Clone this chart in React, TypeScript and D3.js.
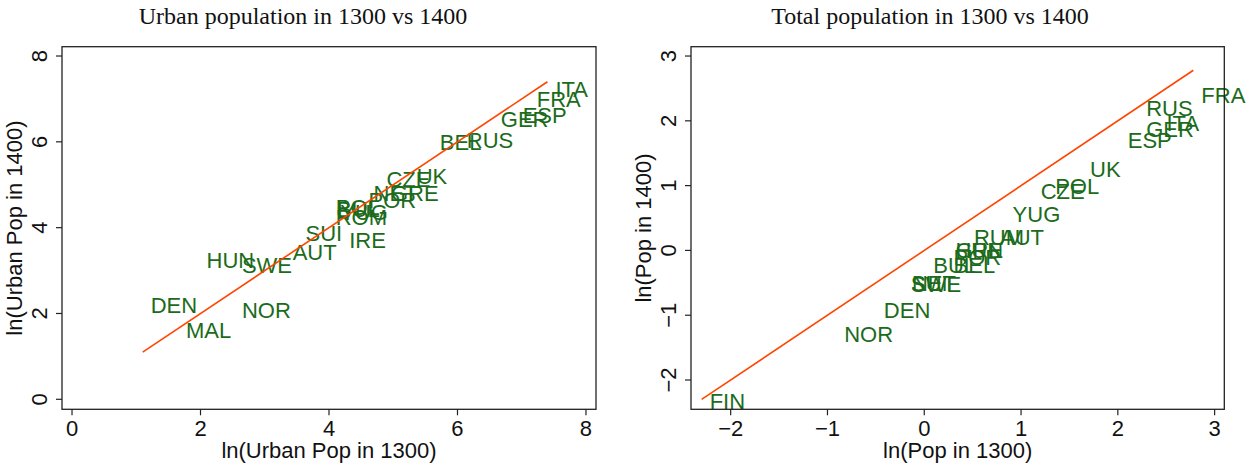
import React from "react";
import * as d3 from "d3";

// ---- Data: left panel (urban population, logs) ----
const urbanCodes = ["DEN", "MAL", "HUN", "SWE", "NOR", "AUT", "SUI", "IRE", "POL", "BUL", "ROM", "YUG", "POR", "NET", "GRE", "CZE", "UK", "BEL", "RUS", "GER", "ESP", "FRA", "ITA"];
const urban1300 = [1.10, 1.65, 1.97, 2.52, 2.52, 3.31, 3.51, 4.19, 3.98, 4.00, 3.98, 4.05, 4.49, 4.57, 4.84, 4.77, 5.24, 5.60, 6.02, 6.55, 6.89, 7.11, 7.40];
const urban1400 = [2.19, 1.61, 3.25, 3.13, 2.08, 3.44, 3.88, 3.72, 4.47, 4.44, 4.24, 4.37, 4.65, 4.80, 4.80, 5.13, 5.20, 6.00, 6.04, 6.53, 6.63, 7.00, 7.23];

// ---- Data: right panel (total population, logs) ----
const popCodes = ["FIN", "NOR", "DEN", "SUI", "SWE", "NET", "BUL", "BEL", "POR", "HUN", "GRE", "RUM", "AUT", "YUG", "CZE", "POL", "UK", "ESP", "GER", "ITA", "RUS", "FRA"];
const pop1300 = [-2.30, -0.91, -0.50, -0.22, -0.22, -0.21, 0.01, 0.22, 0.22, 0.24, 0.24, 0.43, 0.70, 0.83, 1.12, 1.27, 1.63, 2.02, 2.21, 2.42, 2.21, 2.78];
const pop1400 = [-2.32, -1.285, -0.925, -0.51, -0.52, -0.50, -0.22, -0.22, -0.10, 0.00, 0.01, 0.21, 0.21, 0.56, 0.92, 1.00, 1.26, 1.70, 1.88, 1.97, 2.19, 2.40];

// ---- Tick values ----
const urbanTicks = [0, 2, 4, 6, 8];
const popTicks = [-2, -1, 0, 1, 2, 3];

const GREEN = "#1b6b1b";
const RED = "#ff4500";
const SANS = "'Liberation Sans', Arial, Helvetica, sans-serif";
const SERIF = "'Liberation Serif', 'Times New Roman', serif";

type PanelProps = {
  codes: string[];
  xs: number[];
  ys: number[];
  xDomain: [number, number];
  yDomain: [number, number];
  left: number;
  right: number;
  top: number;
  bottom: number;
  xTicks: number[];
  yTicks: number[];
  title: string;
  titleX: number;
  xTitle: string;
  yTitle: string;
  yTitleX: number;
};

function Panel(p: PanelProps) {
  const x = d3.scaleLinear().domain(p.xDomain).range([p.left, p.right]);
  const y = d3.scaleLinear().domain(p.yDomain).range([p.bottom, p.top]);
  const [lo, hi] = d3.extent(p.xs) as [number, number];
  const fitPath = d3.line()([
    [x(lo), y(lo)],
    [x(hi), y(hi)],
  ]) as string;
  const fmt = d3.format("d");
  const midY = (p.top + p.bottom) / 2;
  const midX = (p.left + p.right) / 2;
  const tickLen = 6;
  return (
    <g>
      <text x={p.titleX} y={24} textAnchor="middle" fontFamily={SERIF} fontSize={24} fill="#111">
        {p.title}
      </text>
      {/* labels */}
      {p.codes.map((c, i) => (
        <text
          key={c + i}
          x={x(p.xs[i]) + 8}
          y={y(p.ys[i])}
          dy="0.36em"
          fontFamily={SANS}
          fontSize={22}
          fill={GREEN}
        >
          {c}
        </text>
      ))}
      {/* fitted 45-degree line */}
      <path d={fitPath} stroke={RED} strokeWidth={1.6} fill="none" />
      {/* frame */}
      <rect
        x={p.left}
        y={p.top}
        width={p.right - p.left}
        height={p.bottom - p.top}
        fill="none"
        stroke="#222"
        strokeWidth={1.3}
      />
      {/* x axis ticks */}
      {p.xTicks.map((t) => (
        <g key={"x" + t}>
          <line x1={x(t)} x2={x(t)} y1={p.bottom} y2={p.bottom + tickLen} stroke="#222" strokeWidth={1.2} />
          <text x={x(t)} y={436} textAnchor="middle" fontFamily={SANS} fontSize={22} fill="#111">
            {fmt(t)}
          </text>
        </g>
      ))}
      {/* y axis ticks */}
      {p.yTicks.map((t) => (
        <g key={"y" + t}>
          <line x1={p.left - tickLen} x2={p.left} y1={y(t)} y2={y(t)} stroke="#222" strokeWidth={1.2} />
          <text
            transform={`translate(${p.left - 15},${y(t)}) rotate(-90)`}
            textAnchor="middle"
            fontFamily={SANS}
            fontSize={22}
            fill="#111"
          >
            {fmt(t)}
          </text>
        </g>
      ))}
      <text x={midX} y={458} textAnchor="middle" fontFamily={SANS} fontSize={22} fill="#111">
        {p.xTitle}
      </text>
      <text
        transform={`translate(${p.yTitleX},${midY}) rotate(-90)`}
        textAnchor="middle"
        fontFamily={SANS}
        fontSize={22}
        fill="#111"
      >
        {p.yTitle}
      </text>
    </g>
  );
}

export default function App() {
  return (
    <svg
      width={1255}
      height={467}
      style={{ position: "absolute", left: 0, top: 0, background: "#fff" }}
    >
      <rect x={0} y={0} width={1255} height={467} fill="#fff" />
      <Panel
        codes={urbanCodes}
        xs={urban1300}
        ys={urban1400}
        xDomain={[-0.156, 8.156]}
        yDomain={[-0.233, 8.217]}
        left={62}
        right={596}
        top={46.7}
        bottom={409.3}
        xTicks={urbanTicks}
        yTicks={urbanTicks}
        title="Urban population in 1300 vs 1400"
        titleX={303}
        xTitle="ln(Urban Pop in 1300)"
        yTitle="ln(Urban Pop in 1400)"
        yTitleX={22}
      />
      <Panel
        codes={popCodes}
        xs={pop1300}
        ys={pop1400}
        xDomain={[-2.41, 3.1]}
        yDomain={[-2.452, 3.144]}
        left={691}
        right={1224.3}
        top={46.7}
        bottom={409.3}
        xTicks={popTicks}
        yTicks={popTicks}
        title="Total population in 1300 vs 1400"
        titleX={930}
        xTitle="ln(Pop in 1300)"
        yTitle="ln(Pop in 1400)"
        yTitleX={651}
      />
    </svg>
  );
}
